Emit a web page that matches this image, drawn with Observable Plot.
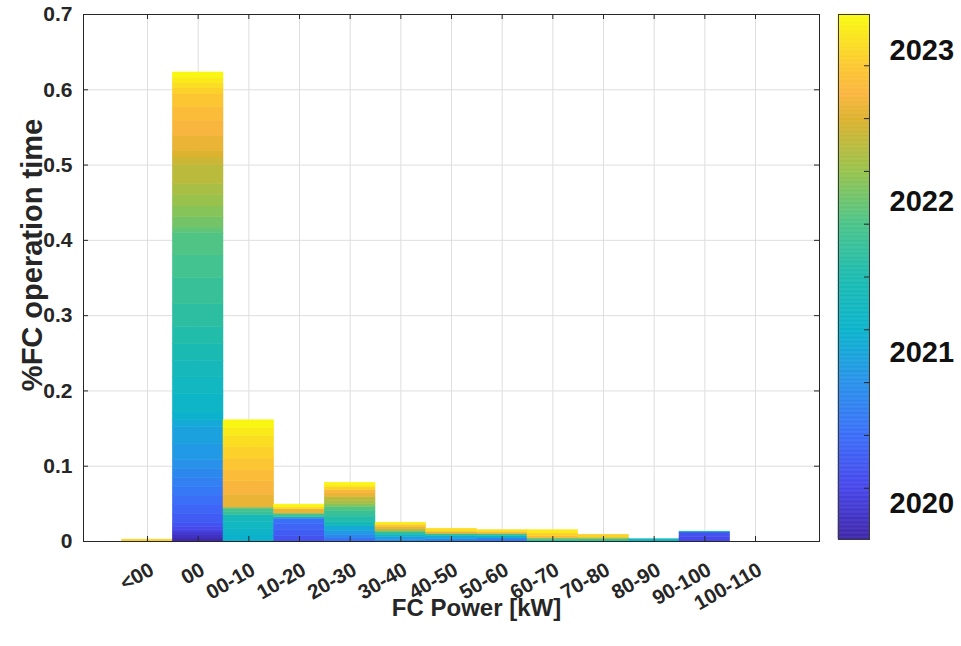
<!DOCTYPE html>
<html><head><meta charset="utf-8">
<script src="https://cdn.jsdelivr.net/npm/d3@7"></script>
<script src="https://cdn.jsdelivr.net/npm/@observablehq/plot@0.6"></script>
<style>
body{margin:0;background:#fff;}
#chart{position:relative;width:961px;height:646px;background:#fff;}
#chart svg{position:absolute;top:0;}
</style></head><body><div id="chart"></div>
<script>
// ---------------- DATA ----------------
const categories = ["<00","00","00-10","10-20","20-30","30-40","40-50","50-60","60-70","70-80","80-90","90-100","100-110"];
const months = [
  "2019-10","2019-11","2019-12",
  "2020-01","2020-02","2020-03","2020-04","2020-05","2020-06","2020-07","2020-08","2020-09","2020-10","2020-11","2020-12",
  "2021-01","2021-02","2021-03","2021-04","2021-05","2021-06","2021-07","2021-08","2021-09","2021-10","2021-11","2021-12",
  "2022-01","2022-02","2022-03","2022-04","2022-05","2022-06","2022-07","2022-08","2022-09","2022-10","2022-11","2022-12",
  "2023-01","2023-02","2023-03"
];
// share of FC operation time per power class, per month (42 months)
const share_lt00 = [0,0,0,    0,0,0,0,0,0,0,0,0,0,0,0,                                 0,0,0,0,0,0,0,0,0,0,0,0,                                 0,0,0,0,0,0,0,0,0,0,0,0.0025,                            0,0,0];
const share_00   = [0.004,0.004,0.004, 0.003,0.004,0.005,0.012,0.013,0.012,0.011,0.012,0.012,0.012,0.022,0.022, 0.009,0.009,0.026,0.022,0.022,0.022,0.023,0.030,0.035,0.030,0.030,0.007, 0.014,0.014,0.015,0.015,0.025,0.010,0.009,0.020,0.020,0.018,0.017,0.008, 0.007,0.007,0.007];
const share_0010 = [0,0,0,    0,0,0,0,0,0,0,0,0,0,0,0,                                 0,0.008,0.009,0.009,0.009,0,0,0,0.004,0.004,0,0.002,     0,0,0,0,0,0,0,0.017,0.018,0.015,0.015,0.015,             0.015,0.011,0.010];
const share_1020 = [0,0,0,    0,0,0.007,0.008,0.008,0.007,0,0,0,0,0.002,0,             0,0,0,0,0,0,0,0,0,0.005,0,0,                             0,0,0,0,0,0,0,0.006,0,0,0,0,                             0.003,0,0.003];
const share_2030 = [0,0,0,    0,0,0,0,0,0.004,0,0,0.005,0,0.005,0,                     0.006,0,0,0,0.006,0,0.007,0,0.007,0,0.006,0,             0,0.004,0,0.004,0.005,0,0,0.005,0.004,0,0,0.004,         0,0.003,0.003];
const share_3040 = [0,0,0,    0,0,0,0,0,0,0,0,0.002,0,0.004,0,                         0,0,0.003,0,0,0,0,0.004,0,0,0,0,                         0,0,0,0.003,0,0,0,0.003,0,0,0.003,0,                     0,0.003,0];
const share_4050 = [0,0,0,    0,0,0,0,0,0,0,0.003,0,0,0,0,                             0.004,0,0,0,0,0,0,0.003,0,0,0,0,                         0,0,0,0,0,0,0,0.003,0,0,0,0,                             0.004,0,0];
const share_5060 = [0,0,0,    0,0,0,0,0,0,0.004,0,0,0,0,0,                             0,0.003,0,0,0,0,0,0,0.003,0,0,0,                         0,0,0,0,0,0,0,0,0.002,0,0,0,                             0.003,0,0];
const share_6070 = [0,0,0,    0,0,0,0,0,0,0,0,0,0,0,0,                                 0,0,0,0,0,0,0,0.002,0,0,0.002,0,                         0,0,0,0,0,0,0,0,0,0.003,0,0.004,                         0,0.004,0];
const share_7080 = [0,0,0,    0,0,0,0,0,0,0,0,0,0,0,0,                                 0,0,0,0,0,0,0,0,0.003,0,0,0,                             0,0,0,0.002,0,0,0,0,0,0,0,0.004,                         0,0,0];
const share_8090 = [0,0,0,    0,0,0,0,0,0,0,0,0,0,0,0,                                 0,0,0,0.003,0,0,0,0,0,0,0,0,                             0,0,0,0,0,0,0,0,0,0,0,0,                                 0,0,0];
const share_90100= [0,0,0,    0,0.006,0.006,0,0,0,0,0,0,0,0,0,                         0,0,0,0.001,0,0,0,0,0,0,0,0,                             0,0,0,0,0,0,0,0,0,0,0,0,                                 0,0,0];
const share_100110=[0,0,0,    0,0,0,0,0,0,0,0,0,0,0,0,                                 0,0,0,0,0,0,0,0,0,0,0,0,                                 0,0,0,0,0,0,0,0,0,0,0,0,                                 0,0,0];
const series = [share_lt00, share_00, share_0010, share_1020, share_2030, share_3040, share_4050, share_5060, share_6070, share_7080, share_8090, share_90100, share_100110];

const yTickValues = [0, 0.1, 0.2, 0.3, 0.4, 0.5, 0.6, 0.7];
const colorLimits = [2019.76, 2023.24];
const cbarLabels = [2020, 2021, 2022, 2023];
const cbarTicks = [2020.1, 2020.45, 2020.8, 2021.15, 2021.5, 2021.85, 2022.2, 2022.55, 2022.9];

// ---------------- STYLE ----------------
const FONT = '"Liberation Sans", Arial, Helvetica, sans-serif';
const INK = "#262626";
const GRID = "#dedede";
const parulaF = [0, 0.1, 0.2, 0.3, 0.4, 0.5, 0.6, 0.7, 0.8, 0.85, 0.9, 1];
const parulaC = ["#3e26a8","#4746eb","#3b6ff8","#2892ea","#0ab4cc","#1cbbb0","#4ac48a","#96c34c","#dcb22e","#fbb63f","#fcc731","#f9fb0e"];
const parulaScale = d3.scaleLinear().domain(parulaF).range(parulaC).interpolate(d3.interpolateRgb).clamp(true);
const colorOpts = {type: "linear", domain: colorLimits, interpolate: t => parulaScale(t), clamp: true};

const rows = [];
categories.forEach((c, i) => series[i].forEach((v, m) => {
  if (v > 0) {
    const [yy, mm] = months[m].split("-").map(Number);
    rows.push({cat: c, month: months[m], t: yy + (mm - 0.5) / 12, value: v});
  }
}));

const W = 835, H = 646, ML = 83, MR = 16, MT = 14, MB = 105;
const FW = W - ML - MR, FH = H - MT - MB;

const main = Plot.plot({
  width: W, height: H,
  marginLeft: ML, marginRight: MR, marginTop: MT, marginBottom: MB,
  style: {fontFamily: FONT, background: "transparent", overflow: "visible"},
  x: {type: "band", domain: categories, paddingInner: 0, paddingOuter: 0.763, round: false, axis: null},
  y: {domain: [0, 0.7], axis: null},
  color: colorOpts,
  marks: [
    Plot.ruleX(categories, {x: d => d, stroke: GRID, strokeWidth: 1}),
    Plot.ruleY(yTickValues, {y: d => d, stroke: GRID, strokeWidth: 1}),
    Plot.barY(rows, {x: "cat", y: "value", fill: "t", stroke: "t", strokeWidth: 0.5}),
    Plot.tickX(categories, {x: d => d, insetTop: FH - 5, stroke: INK, strokeWidth: 1}),
    Plot.tickX(categories, {x: d => d, insetBottom: FH - 5, stroke: INK, strokeWidth: 1}),
    Plot.tickY(yTickValues, {y: d => d, insetRight: FW - 5, stroke: INK, strokeWidth: 1}),
    Plot.tickY(yTickValues, {y: d => d, insetLeft: FW - 5, stroke: INK, strokeWidth: 1}),
    Plot.frame({stroke: INK, strokeWidth: 1}),
    Plot.text(yTickValues, {y: d => d, text: d => String(d), frameAnchor: "left", dx: -11, textAnchor: "end", lineAnchor: "middle", fontSize: 21, fontWeight: "bold", fill: INK}),
    Plot.text(categories, {x: d => d, text: d => d, frameAnchor: "bottom", dx: 4.6, dy: 26.5, rotate: -30, textAnchor: "end", lineAnchor: "middle", fontSize: 20.5, fontWeight: "bold", fill: INK}),
    Plot.text(["%FC operation time"], {text: d => d, frameAnchor: "left", dx: -51, dy: -23, rotate: -90, textAnchor: "middle", lineAnchor: "middle", fontSize: 29, fontWeight: "bold", fill: INK}),
    Plot.text(["FC Power [kW]"], {text: d => d, frameAnchor: "bottom", dx: 25, dy: 67, textAnchor: "middle", lineAnchor: "middle", fontSize: 24, fontWeight: "bold", fill: INK})
  ]
});

const steps = d3.range(0, 400).map(i => [colorLimits[0] + (colorLimits[1] - colorLimits[0]) * i / 400, colorLimits[0] + (colorLimits[1] - colorLimits[0]) * (i + 1) / 400]);
const CW = 135, CML = 12, CMR = 92, CMT = 14, CMB = 107;
const cb = Plot.plot({
  width: CW, height: H,
  marginLeft: CML, marginRight: CMR, marginTop: CMT, marginBottom: CMB,
  style: {fontFamily: FONT, background: "transparent", overflow: "visible"},
  x: {domain: [0, 1], axis: null},
  y: {domain: colorLimits, axis: null},
  color: colorOpts,
  marks: [
    Plot.rect(steps, {y1: d => d[0], y2: d => d[1], fill: d => (d[0] + d[1]) / 2, stroke: d => (d[0] + d[1]) / 2, strokeWidth: 0.5}),
    Plot.tickY(cbarTicks, {y: d => d, insetLeft: (CW - CML - CMR) - 5, stroke: INK, strokeWidth: 1}),
    Plot.frame({stroke: "#3a3a3a", strokeWidth: 1}),
    Plot.text(cbarLabels, {y: d => d, text: d => String(d), frameAnchor: "right", dx: 20, textAnchor: "start", lineAnchor: "middle", fontSize: 29, fontWeight: "bold", fill: "#111"})
  ]
});
cb.style.left = "826px";
main.style.left = "0px";
document.getElementById("chart").append(main, cb);
</script>
</body></html>
